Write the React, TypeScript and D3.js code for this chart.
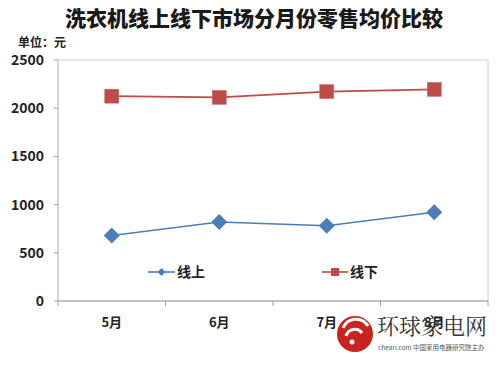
import React from "react";
import * as d3 from "d3";

const months = ["5月", "6月", "7月", "8月"];
const onlineValues = [680, 820, 780, 920];
const offlineValues = [2125, 2112, 2172, 2195];
const yTicks = [0, 500, 1000, 1500, 2000, 2500];
const seriesNames = ["线上", "线下"];

const W = 500, H = 373;
const left = 58, right = 488, top = 60, bottom = 301;

export default function App() {
  const x = d3.scaleBand<string>().domain(months).range([left, right]);
  const y = d3.scaleLinear().domain([0, 2500]).range([bottom, top]);
  const cx = (m: string) => (x(m) as number) + x.bandwidth() / 2;
  const line = d3.line<[number, number]>().x(d => d[0]).y(d => d[1]);
  const onPts: [number, number][] = months.map((m, i) => [cx(m), y(onlineValues[i])]);
  const offPts: [number, number][] = months.map((m, i) => [cx(m), y(offlineValues[i])]);
  const blue = "#4a7ebb";
  const red = "#be4b48";
  const font = "'Noto Sans CJK SC', 'DejaVu Sans', sans-serif";
  const diamond = (px: number, py: number, r: number) => `M${px},${py - r}L${px + r},${py}L${px},${py + r}L${px - r},${py}Z`;
  const boundaries = [...months.map(m => x(m) as number), right];
  return (
    <svg width={W} height={H} style={{ position: "absolute", left: 0, top: 0, background: "#fff" }} fontFamily={font}>
      <text x={254} y={26} textAnchor="middle" fontSize={21} fontWeight="900" fill="#1a1a1a">洗衣机线上线下市场分月份零售均价比较</text>
      <text x={18} y={47} fontSize={12} fontWeight="bold" fill="#222">单位：元</text>
      {/* frame */}
      <rect x={left} y={top} width={right - left} height={bottom - top} fill="none" stroke="#d0d0d0" strokeWidth={1} />
      <line x1={left} x2={right} y1={bottom} y2={bottom} stroke="#a0a0a0" />
      <line x1={left} x2={left} y1={top} y2={bottom} stroke="#c0c0c0" />
      {yTicks.map(t => (
        <g key={t}>
          <line x1={left - 4} x2={left} y1={y(t)} y2={y(t)} stroke="#a0a0a0" />
          <text x={44} y={y(t) + 5} textAnchor="end" fontSize={14} fontWeight="bold" fill="#222">{t}</text>
        </g>
      ))}
      {boundaries.map((b, i) => (
        <line key={i} x1={b} x2={b} y1={bottom} y2={bottom + 5} stroke="#a0a0a0" />
      ))}
      {months.map(m => (
        <text key={m} x={cx(m)} y={327} textAnchor="middle" fontSize={13} fontWeight="bold" fill="#222">{m}</text>
      ))}
      <path d={line(offPts) || ""} fill="none" stroke={red} strokeWidth={1.6} />
      {offPts.map((p, i) => (
        <rect key={i} x={p[0] - 7} y={p[1] - 7} width={14} height={14} fill={red} stroke="#c86a66" strokeWidth={0.5} />
      ))}
      <path d={line(onPts) || ""} fill="none" stroke={blue} strokeWidth={1.6} />
      {onPts.map((p, i) => (
        <path key={i} d={diamond(p[0], p[1], 8)} fill={blue} />
      ))}
      {/* legend */}
      <line x1={148} x2={175} y1={272} y2={272} stroke={blue} strokeWidth={1.6} />
      <path d={diamond(161.5, 272, 4)} fill={blue} />
      <text x={177} y={277} fontSize={14} fontWeight="bold" fill="#222">{seriesNames[0]}</text>
      <line x1={322} x2={348} y1={272} y2={272} stroke={red} strokeWidth={1.6} />
      <rect x={331} y={268} width={8} height={8} fill={red} />
      <text x={350} y={277} fontSize={14} fontWeight="bold" fill="#222">{seriesNames[1]}</text>
      {/* watermark */}
      <circle cx={355} cy={334} r={18} fill="#c8231e" />
      <path d="M343,328 A14,14 0 0 1 368,326" fill="none" stroke="#fff" strokeWidth={3} />
      <path d="M346,336 A9,9 0 0 1 362,333" fill="none" stroke="#fff" strokeWidth={3} />
      <circle cx={352} cy={342} r={2.5} fill="#fff" />
      <text x={377} y={334} fontSize={22} fontFamily="'Noto Serif CJK SC', 'Noto Sans CJK SC', serif" fill="#333">环球家电网</text>
      <text x={378} y={350} fontSize={6.5} fill="#555">cheari.com 中国家用电器研究院主办</text>
    </svg>
  );
}
